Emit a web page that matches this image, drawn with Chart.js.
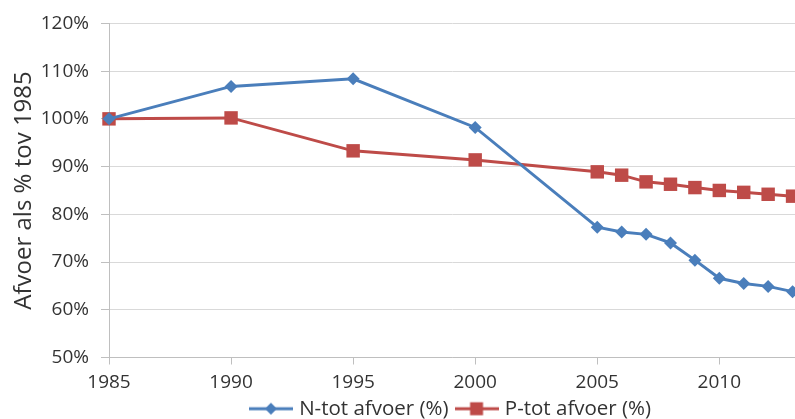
<!DOCTYPE html>
<html>
<head>
<meta charset="utf-8">
<script src="https://cdn.jsdelivr.net/npm/chart.js@4.4.1/dist/chart.umd.min.js"></script>
<style>
  html, body { margin: 0; padding: 0; background: #fff; }
  #wrap { width: 795px; height: 419px; }
</style>
</head>
<body>
<div id="wrap"><canvas id="afvoer" width="795" height="419"></canvas></div>
<script>
// data
const years = [1985, 1990, 1995, 2000, 2005, 2006, 2007, 2008, 2009, 2010, 2011, 2012, 2013];
const nTot = [100, 106.8, 108.4, 98.2, 77.3, 76.3, 75.8, 74.0, 70.4, 66.6, 65.5, 64.9, 63.8];
const pTot = [100, 100.2, 93.3, 91.4, 88.9, 88.2, 86.8, 86.3, 85.6, 85.0, 84.6, 84.2, 83.8];
const seriesNames = ['N-tot afvoer (%)', 'P-tot afvoer (%)'];
const xTicks = [1985, 1990, 1995, 2000, 2005, 2010];
const yTicks = [50, 60, 70, 80, 90, 100, 110, 120];

const blue = '#4a7ebb';
const red = '#be4b48';
const fontName = "'Open Sans', 'DejaVu Sans', sans-serif";

function toPoints(vals) {
    return years.map((yr, i) => ({ x: yr, y: vals[i] }));
}

// little legend picture: line with marker in the middle
function legendIcon(color, shape) {
    var c = document.createElement('canvas');
    c.width = 44;
    c.height = 16;
    var g = c.getContext('2d');
    g.strokeStyle = color;
    g.lineWidth = 3;
    g.beginPath();
    g.moveTo(0, 8);
    g.lineTo(44, 8);
    g.stroke();
    g.fillStyle = color;
    g.beginPath();
    if (shape === 'diamond') {
        g.moveTo(22, 2); g.lineTo(28, 8); g.lineTo(22, 14); g.lineTo(16, 8);
    } else {
        g.rect(15.5, 1.5, 13, 13);
    }
    g.closePath();
    g.fill();
    return c;
}

const icons = [legendIcon(blue, 'diamond'), legendIcon(red, 'square')];

new Chart(document.getElementById('afvoer'), {
    type: 'line',
    data: {
        datasets: [{
            label: seriesNames[0],
            data: toPoints(nTot),
            borderColor: blue,
            backgroundColor: blue,
            borderWidth: 3,
            pointStyle: 'rectRot',
            pointRadius: 6.5,
            pointBorderWidth: 0,
            clip: false
        }, {
            label: seriesNames[1],
            data: toPoints(pTot),
            borderColor: red,
            backgroundColor: red,
            borderWidth: 3,
            pointStyle: 'rect',
            pointRadius: 9.5,
            pointBorderWidth: 0,
            clip: false
        }]
    },
    options: {
        responsive: false,
        animation: false,
        layout: { autoPadding: false, padding: { top: 22, right: 0, left: 0, bottom: -10 } },
        scales: {
            x: {
                type: 'linear',
                min: 1985,
                max: 2013.1,
                afterBuildTicks: (s) => {
                    s.ticks = xTicks.map(v => ({ value: v }));
                },
                afterFit: (s) => {
                    s.height = 31;
                    s.paddingLeft = 0;
                    s.paddingRight = 0;
                },
                ticks: {
                    callback: (v) => String(v),
                    color: '#333',
                    font: { family: fontName, size: 19 },
                    padding: 7,
                    maxRotation: 0
                },
                grid: {
                    drawOnChartArea: false,
                    drawTicks: true,
                    tickLength: 7,
                    color: '#bfbfbf'
                },
                border: { color: '#bfbfbf' }
            },
            y: {
                min: 50,
                max: 120,
                afterBuildTicks: (s) => {
                    s.ticks = yTicks.map(v => ({ value: v }));
                },
                afterFit: (s) => { s.width = 109; },
                ticks: {
                    callback: (v) => v + '%',
                    color: '#333',
                    font: { family: fontName, size: 19 },
                    padding: 12
                },
                grid: {
                    color: '#d9d9d9',
                    tickLength: 8,
                    tickColor: '#bfbfbf'
                },
                border: { color: '#bfbfbf' },
                title: {
                    display: true,
                    text: 'Afvoer als % tov 1985',
                    color: '#333',
                    font: { family: fontName, size: 24 },
                    padding: { top: 10, bottom: 0 }
                }
            }
        },
        plugins: {
            legend: {
                position: 'bottom',
                fullSize: false,
                labels: {
                    usePointStyle: true,
                    pointStyleWidth: 36,
                    color: '#333',
                    font: { family: fontName, size: 20.5 },
                    padding: 10,
                    generateLabels: (chart) => chart.data.datasets.map((ds, i) => ({
                        text: ds.label,
                        pointStyle: icons[i],
                        fillStyle: ds.borderColor,
                        strokeStyle: ds.borderColor,
                        lineWidth: 0,
                        fontColor: '#333',
                        datasetIndex: i
                    }))
                }
            },
            tooltip: { enabled: false }
        }
    }
});
</script>
</body>
</html>
